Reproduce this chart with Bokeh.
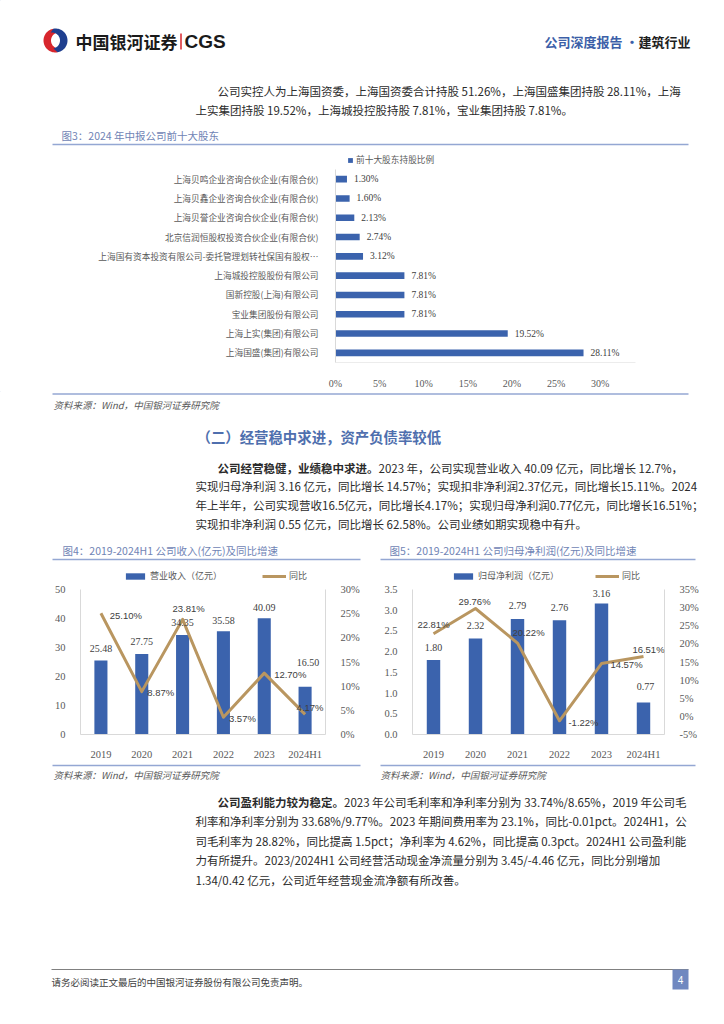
import numpy as np
from bokeh.plotting import figure
from bokeh.models import (Range1d, FactorRange, LinearAxis, FixedTicker, PrintfTickFormatter,
                          Legend, LegendItem, LabelSet, ColumnDataSource)
from bokeh.layouts import column, row
from bokeh.core.properties import value
from bokeh.embed import file_html
from bokeh.resources import INLINE

# ---------------- data ----------------
holders = [
    "上海贝鸣企业咨询合伙企业(有限合伙)",
    "上海贝鑫企业咨询合伙企业(有限合伙)",
    "上海贝誉企业咨询合伙企业(有限合伙)",
    "北京信润恒股权投资合伙企业(有限合伙)",
    "上海国有资本投资有限公司-委托管理划转社保国有股权…",
    "上海城投控股股份有限公司",
    "国新控股(上海)有限公司",
    "宝业集团股份有限公司",
    "上海上实(集团)有限公司",
    "上海国盛(集团)有限公司",
]
holder_pct = [1.30, 1.60, 2.13, 2.74, 3.12, 7.81, 7.81, 7.81, 19.52, 28.11]
pct_ticks = [0, 5, 10, 15, 20, 25, 30]

years = ["2019", "2020", "2021", "2022", "2023", "2024H1"]
revenue = [25.48, 27.75, 34.35, 35.58, 40.09, 16.50]
revenue_yoy = [25.10, 8.87, 23.81, 3.57, 12.70, 4.17]
profit = [1.80, 2.32, 2.79, 2.76, 3.16, 0.77]
profit_yoy = [22.81, 29.76, 20.22, -1.22, 14.57, 16.51]

rev_ticks = [0, 10, 20, 30, 40, 50]
rev_yoy_ticks = [0, 5, 10, 15, 20, 25, 30]
prof_ticks = [0, 0.5, 1.0, 1.5, 2.0, 2.5, 3.0, 3.5]
prof_yoy_ticks = [-5, 0, 5, 10, 15, 20, 25, 30, 35]

# label nudges (screen px)
rev_bar_dx = [0, 0, 0, 0, 0, 3]
rev_bar_dy = [12, 13, 12, 11, 11, 24]
rev_yoy_dx = [25, 19, 6, 19, 26, 5]
rev_yoy_dy = [-2, -1, 11, -1, -1, 7]
prof_bar_dx = [0, 0, 0, 0, 0, 2]
prof_bar_dy = [12, 13, 13, 13, 10, 16]
prof_yoy_dx = [0, -1, 11, 24, 25, 5]
prof_yoy_dy = [9, 7, 11, -2, -1, 7]

# ---------------- texts ----------------
header_brand = "中国银河证券"
header_cgs = "CGS"
header_type = "公司深度报告 ·"
header_ind = "建筑行业"
para1 = [
    "公司实控人为上海国资委，上海国资委合计持股 51.26%，上海国盛集团持股 28.11%，上海",
    "上实集团持股 19.52%，上海城投控股持股 7.81%，宝业集团持股 7.81%。",
]
fig3_title = "图3：2024 年中报公司前十大股东"
fig3_legend = "前十大股东持股比例"
source_txt = "资料来源：Wind，中国银河证券研究院"
section_title = "（二）经营稳中求进，资产负债率较低"
para2_lead = "公司经营稳健，业绩稳中求进。"
para2 = [
    "2023 年，公司实现营业收入 40.09 亿元，同比增长 12.7%，",
    "实现归母净利润 3.16 亿元，同比增长 14.57%；实现扣非净利润2.37亿元，同比增长15.11%。2024",
    "年上半年，公司实现营收16.5亿元，同比增长4.17%；实现归母净利润0.77亿元，同比增长16.51%；",
    "实现扣非净利润 0.55 亿元，同比增长 62.58%。公司业绩如期实现稳中有升。",
]
fig4_title = "图4：2019-2024H1 公司收入(亿元)及同比增速"
fig4_bar_name = "营业收入（亿元）"
fig5_title = "图5：2019-2024H1 公司归母净利润(亿元)及同比增速"
fig5_bar_name = "归母净利润（亿元）"
yoy_name = "同比"
para3_lead = "公司盈利能力较为稳定。"
para3 = [
    "2023 年公司毛利率和净利率分别为 33.74%/8.65%，2019 年公司毛",
    "利率和净利率分别为 33.68%/9.77%。2023 年期间费用率为 23.1%，同比-0.01pct。2024H1，公",
    "司毛利率为 28.82%，同比提高 1.5pct；净利率为 4.62%，同比提高 0.3pct。2024H1 公司盈利能",
    "力有所提升。2023/2024H1 公司经营活动现金净流量分别为 3.45/-4.46 亿元，同比分别增加",
    "1.34/0.42 亿元，公司近年经营现金流净额有所改善。",
]
footer_txt = "请务必阅读正文最后的中国银河证券股份有限公司免责声明。"
page_no = "4"

# ---------------- styles ----------------
CJK = "Noto Sans CJK SC"
SERIF = "Liberation Serif"
SANS = "Liberation Sans"
BODY = "#2b2b2b"
BODY_PX = 11.5
BODY_SIZE = f"{BODY_PX}px"
TITLE_BLUE = "#7084b5"
RULE_BLUE = "#94a7d3"
BAR_BLUE = "#3b63ad"
GOLD = "#b99660"
AXIS_GRAY = "#d9d9d9"
LABEL_GRAY = "#595959"
W = 720
OFF = -5000  # off-canvas anchor for legend-only renderers


def strip(y_top, y_bot):
    p = figure(width=W, height=y_bot - y_top, x_range=Range1d(0, W),
               y_range=Range1d(y_bot, y_top), min_border=0,
               toolbar_location=None, output_backend="svg",
               x_axis_location=None, y_axis_location=None)
    p.grid.visible = False
    p.outline_line_color = None
    return p


def put(p, x, y, s, size, color=BODY, font=CJK, style="normal", align="left"):
    p.text(x=[x], y=[y], text=[s], text_font=value(font), text_font_size=size,
           text_color=color, text_font_style=style, text_align=align,
           text_baseline="middle")


def rule(p, x0, x1, y, color=RULE_BLUE, w=1.5):
    p.segment(x0=[x0], y0=[y], x1=[x1], y1=[y], line_color=color, line_width=w)


def crescent(cx, cy, r, a0, a1, icx, icy, ir, n=40):
    t = np.radians(np.linspace(a0, a1, n))
    xo = cx + r * np.cos(t)
    yo = cy - r * np.sin(t)
    ti = t[::-1]
    xi = icx + ir * np.cos(ti)
    yi = icy - ir * np.sin(ti)
    return list(np.r_[xo, xi]), list(np.r_[yo, yi])


def paragraph(p, lead, lines, y0, dy):
    lead_w = len(lead) * BODY_PX
    if lead:
        put(p, 217, y0, lead, BODY_SIZE, style="bold")
    put(p, 217 + lead_w, y0, lines[0], BODY_SIZE)
    for i, s in enumerate(lines[1:]):
        put(p, 195, y0 + dy * (i + 1), s, BODY_SIZE)


def strip_legend(p, items, loc, spacing, gw, gh, size):
    leg = Legend(items=items, location=loc, orientation="horizontal", spacing=spacing,
                 glyph_width=gw, glyph_height=gh, label_standoff=3, label_height=9,
                 label_width=10, padding=0, margin=0, border_line_color=None,
                 background_fill_alpha=0, label_text_font=CJK, label_text_font_size=size,
                 label_text_color=LABEL_GRAY)
    p.add_layout(leg, "center")


# ---------------- S1: header + para1 + fig3 title + fig3 legend ----------------
s1 = strip(0, 166)
rx, ry = crescent(55, 40, 12, 100, 280, 58.5, 40, 8)
bx, by = crescent(55, 40, 12, 280, 460, 51.5, 40, 8)
s1.patch(rx, ry, fill_color="#d7262d", line_color=None)
s1.patch(bx, by, fill_color="#1f3f8f", line_color=None)
put(s1, 75, 41, header_brand, "17px", color="#1a1a1a", style="bold")
s1.segment(x0=[180.5], y0=[33], x1=[180.5], y1=[49], line_color="#d7262d", line_width=1.5)
put(s1, 184, 41, header_cgs, "19px", color="#1a1a1a", font=SANS, style="bold")
put(s1, 544, 41, header_type, "13px", color="#3c5fa8", style="bold")
put(s1, 638, 41, header_ind, "13px", color="#1e1e1e", style="bold")
paragraph(s1, "", para1, 90, 19)
put(s1, 61, 135, fig3_title, "10.5px", color=TITLE_BLUE)
rule(s1, 52, 688, 144)
lg3 = s1.hbar(y=[OFF], right=[OFF], left=[OFF], height=1, fill_color=BAR_BLUE, line_color=None)
strip_legend(s1, [LegendItem(label=fig3_legend, renderers=[lg3])], (347, 0), 0, 6, 6, "8.7px")

# ---------------- S2: fig3 chart ----------------
factors = list(reversed(holders))
p3 = figure(width=W, height=225, y_range=FactorRange(factors=factors), x_range=Range1d(0, 34),
            min_border_left=335, min_border_right=85, min_border_top=3, min_border_bottom=22,
            toolbar_location=None, output_backend="svg")
p3.grid.visible = False
p3.outline_line_color = None
src3 = ColumnDataSource(dict(name=holders, v=holder_pct, lab=[f"{v:.2f}%" for v in holder_pct]))
p3.hbar(y="name", right="v", left=0, height=0.34, source=src3, fill_color=BAR_BLUE, line_color=None)
p3.add_layout(LabelSet(x="v", y="name", text="lab", source=src3, x_offset=7, text_baseline="middle",
                       text_align="left", text_font=value(SERIF), text_font_size="9.5px",
                       text_color="#404040"))
p3.xaxis.ticker = FixedTicker(ticks=pct_ticks)
p3.xaxis.formatter = PrintfTickFormatter(format="%d%%")
for ax in (p3.xaxis, p3.yaxis):
    ax.axis_line_color = AXIS_GRAY
    ax.major_tick_line_color = None
    ax.minor_tick_line_color = None
    ax.major_label_text_color = LABEL_GRAY
p3.xaxis.axis_line_color = "#ececec"
p3.xaxis.major_label_text_font = SERIF
p3.xaxis.major_label_text_font_size = "10px"
p3.xaxis.major_label_standoff = 9
p3.yaxis.major_label_text_font = CJK
p3.yaxis.major_label_text_font_size = "8.7px"
p3.yaxis.major_label_standoff = 11

# ---------------- S3: source + section + para2 + fig titles + legends ----------------
s3 = strip(391, 583)
rule(s3, 52, 688, 393.5)
put(s3, 53, 404, source_txt, "9.5px", color=LABEL_GRAY, style="italic")
put(s3, 196, 436, section_title, "14.4px", color="#4f6fae", style="bold")
paragraph(s3, para2_lead, para2, 467, 18.8)
put(s3, 62, 550, fig4_title, "10.5px", color=TITLE_BLUE)
rule(s3, 52, 360, 559)
put(s3, 389, 550, fig5_title, "10.5px", color=TITLE_BLUE)
rule(s3, 380, 695, 559)
lgb = s3.vbar(x=[OFF], top=[OFF], bottom=[OFF], width=1, fill_color=BAR_BLUE, line_color=None)
lgl = s3.line(x=[OFF, OFF + 1], y=[OFF, OFF], line_color=GOLD, line_width=3)
strip_legend(s3, [LegendItem(label=fig4_bar_name, renderers=[lgb]),
                  LegendItem(label=yoy_name, renderers=[lgl])], (123, 1), 40, 24, 8, "9px")
strip_legend(s3, [LegendItem(label=fig5_bar_name, renderers=[lgb]),
                  LegendItem(label=yoy_name, renderers=[lgl])], (451, 1), 36, 24, 8, "9px")


# ---------------- S4: combo charts ----------------
def combo(width, bars, yoy, yl, yl_ticks, yl_fmt, yr, yr_ticks, borders, bdx, bdy, ldx, ldy):
    bl, br = borders
    p = figure(width=width, height=179, x_range=FactorRange(factors=years), y_range=Range1d(*yl),
               min_border_left=bl, min_border_right=br, min_border_top=6, min_border_bottom=21,
               toolbar_location=None, output_backend="svg")
    p.grid.visible = False
    p.outline_line_color = None
    p.extra_y_ranges = {"pct": Range1d(*yr)}
    src = ColumnDataSource(dict(x=years, top=bars, yoy=yoy,
                                blab=[f"{v:.2f}" for v in bars],
                                llab=[f"{v:.2f}%" for v in yoy],
                                bdx=bdx, bdy=bdy, ldx=ldx, ldy=ldy))
    p.vbar(x="x", top="top", width=0.32, source=src, fill_color=BAR_BLUE, line_color=None)
    p.line(x="x", y="yoy", source=src, y_range_name="pct", line_color=GOLD, line_width=3,
           line_join="round")
    p.add_layout(LabelSet(x="x", y="top", text="blab", source=src, x_offset="bdx", y_offset="bdy",
                          text_align="center", text_baseline="middle", text_font=value(SERIF),
                          text_font_size="10px", text_color="#404040"))
    p.add_layout(LabelSet(x="x", y="yoy", y_range_name="pct", text="llab", source=src,
                          x_offset="ldx", y_offset="ldy", text_align="center",
                          text_baseline="middle", text_font=value(SANS),
                          text_font_size="9.5px", text_color="#404040"))
    ra = LinearAxis(y_range_name="pct", ticker=FixedTicker(ticks=yr_ticks),
                    formatter=PrintfTickFormatter(format="%d%%"))
    p.add_layout(ra, "right")
    p.yaxis[0].ticker = FixedTicker(ticks=yl_ticks)
    if yl_fmt:
        p.yaxis[0].formatter = PrintfTickFormatter(format=yl_fmt)
    for ax in list(p.yaxis) + list(p.xaxis):
        ax.axis_line_color = AXIS_GRAY
        ax.major_tick_line_color = None
        ax.minor_tick_line_color = None
        ax.major_label_text_color = LABEL_GRAY
        ax.major_label_text_font = SERIF
        ax.major_label_text_font_size = "10.5px"
        ax.major_label_standoff = 9
    p.xaxis.major_label_standoff = 8
    return p


p4 = combo(362, revenue, revenue_yoy, (0, 50), rev_ticks, None, (0, 30), rev_yoy_ticks,
           (80, 29), rev_bar_dx, rev_bar_dy, rev_yoy_dx, rev_yoy_dy)
p5 = combo(W - 362, profit, profit_yoy, (0, 3.5), prof_ticks, "%.1f", (-5, 35), prof_yoy_ticks,
           (50, 56), prof_bar_dx, prof_bar_dy, prof_yoy_dx, prof_yoy_dy)

# ---------------- S5: sources + para3 + footer ----------------
s5 = strip(762, 1020)
rule(s5, 52, 360, 765)
rule(s5, 380, 695, 765)
put(s5, 53, 774, source_txt, "9.5px", color=LABEL_GRAY, style="italic")
put(s5, 380, 774, source_txt, "9.5px", color=LABEL_GRAY, style="italic")
paragraph(s5, para3_lead, para3, 801, 19.5)
rule(s5, 51, 688, 969, color="#808080", w=1)
put(s5, 51, 981, footer_txt, "9.5px", color="#404040")
s5.quad(left=[672], right=[688], top=[969], bottom=[989], fill_color="#7088c0", line_color=None)
put(s5, 680, 979, page_no, "10px", color="white", font=SANS, align="center")

layout = column(row(s1), row(p3), row(s3), row(p4, p5), row(s5))
open("out.html", "w").write(file_html(layout, INLINE))
